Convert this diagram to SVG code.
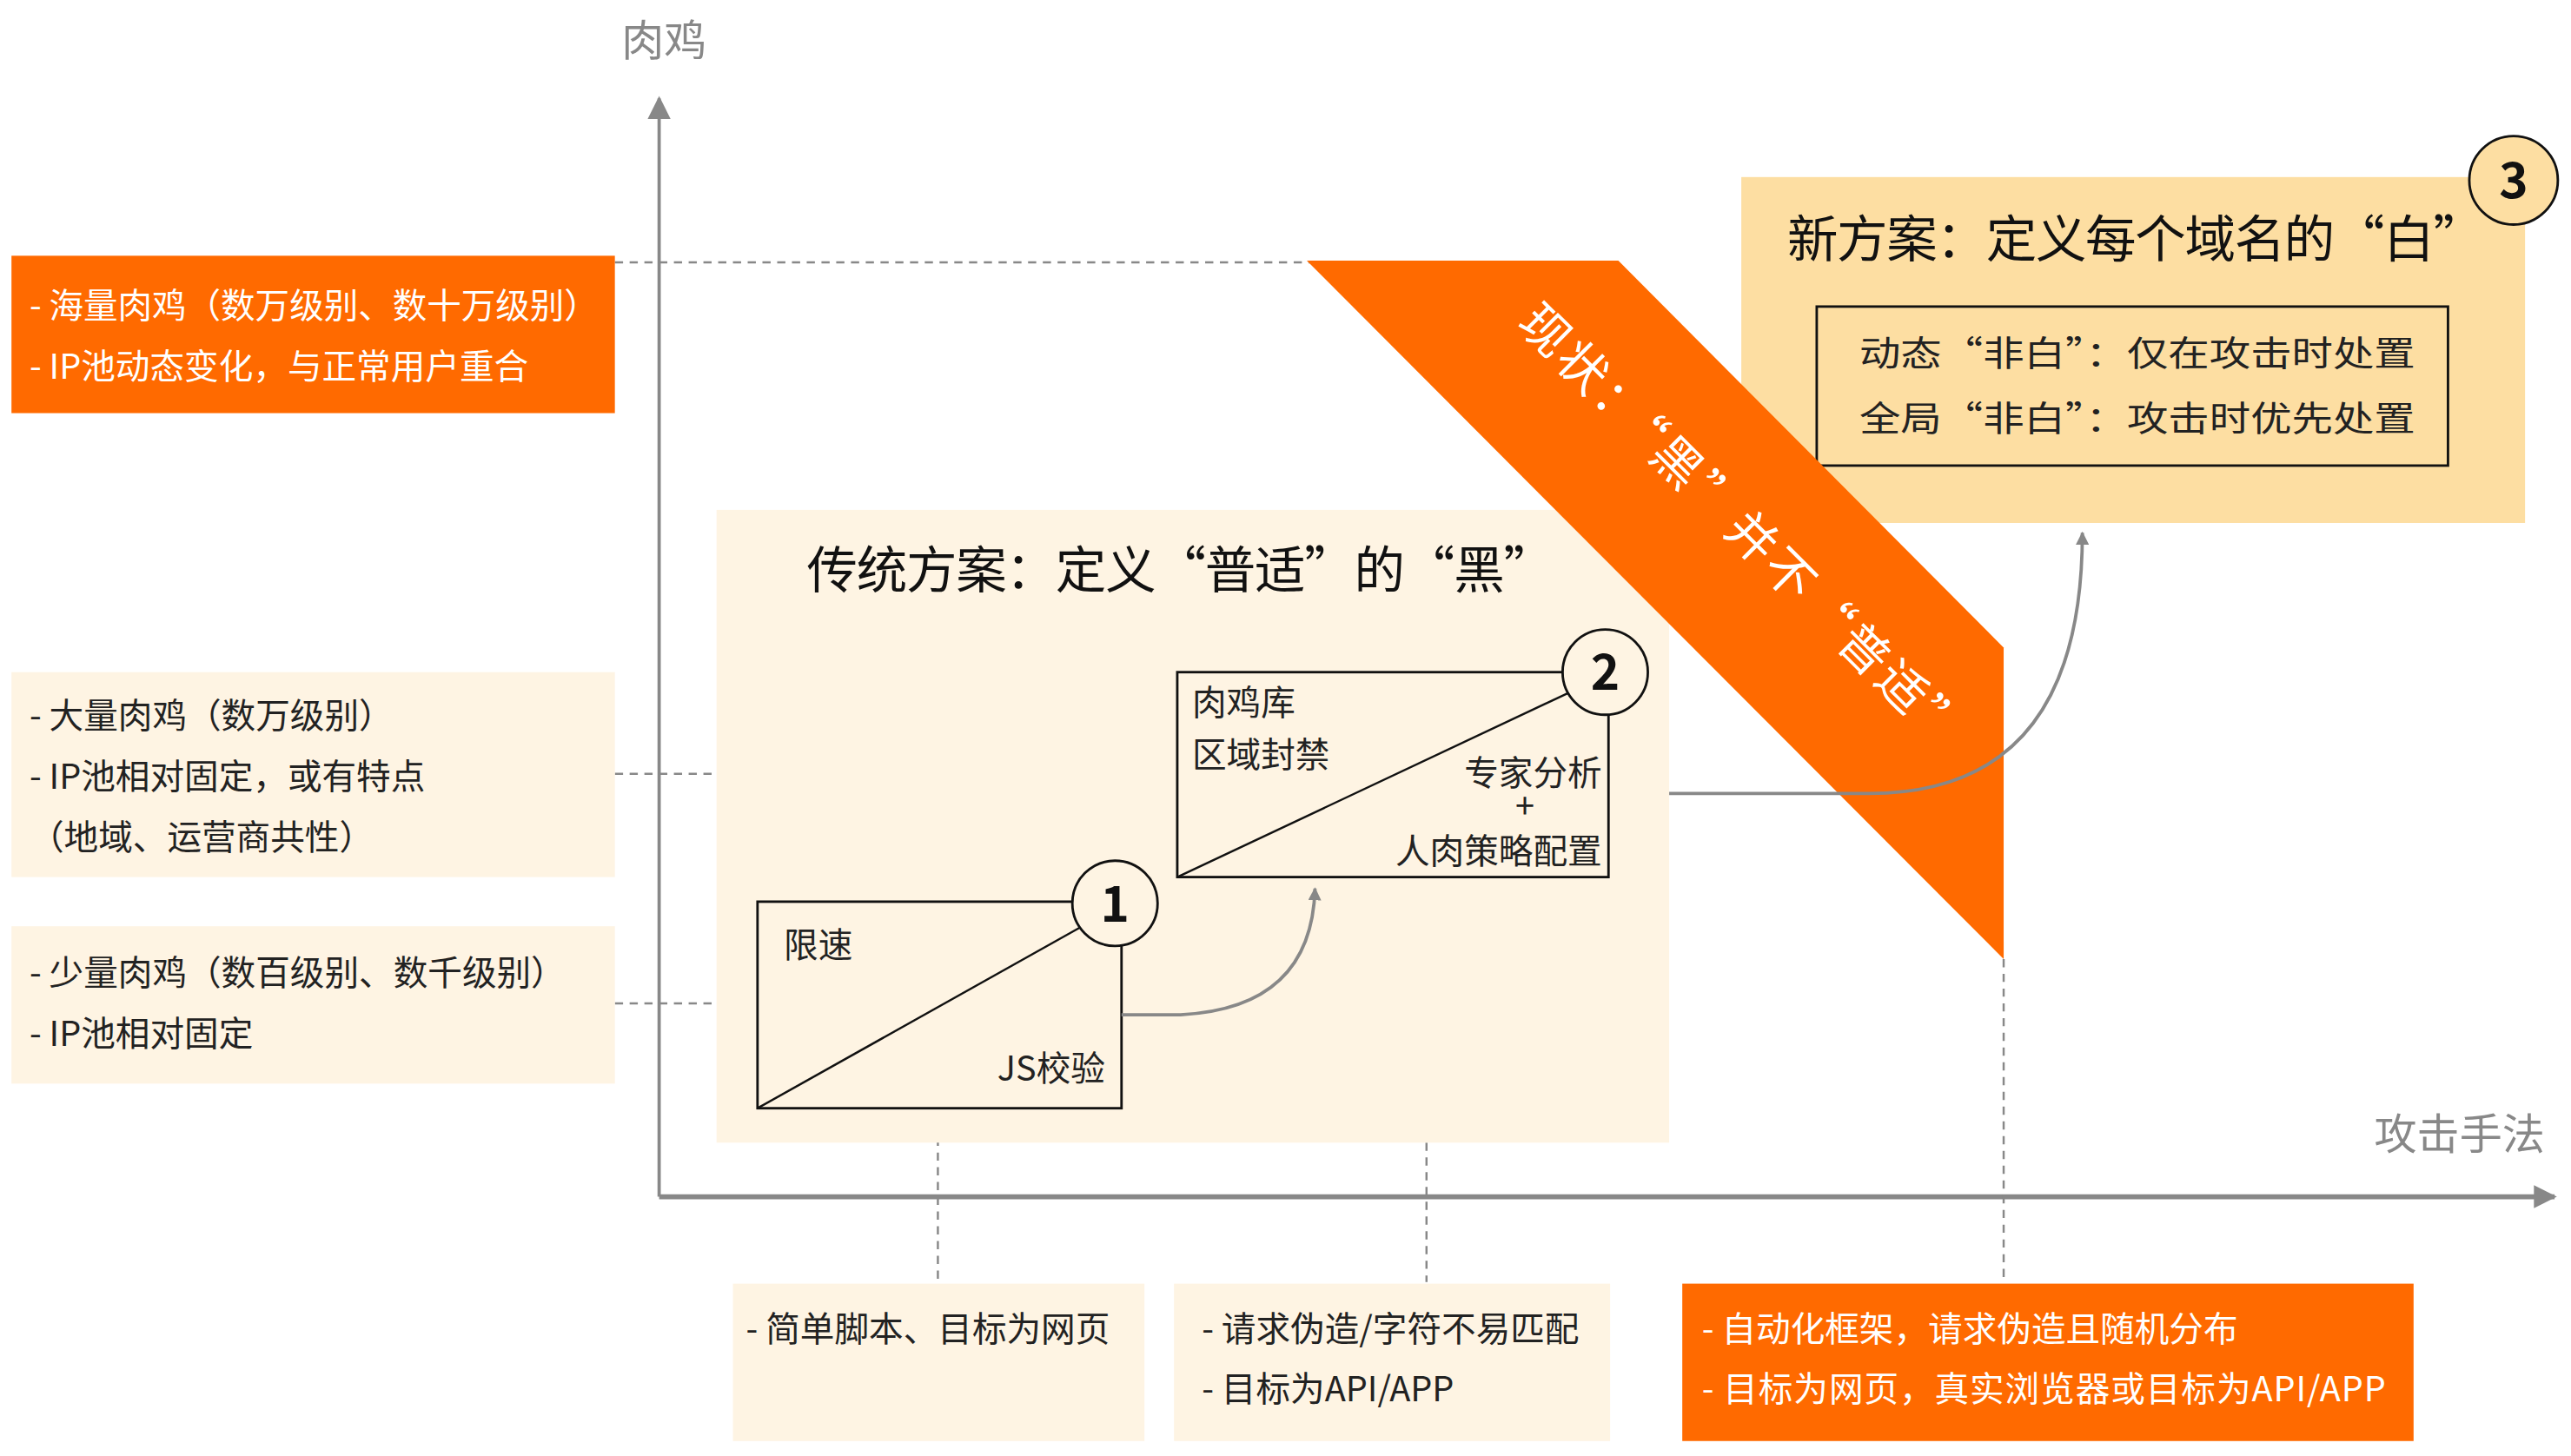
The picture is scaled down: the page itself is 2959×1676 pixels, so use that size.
<svg xmlns="http://www.w3.org/2000/svg" width="2959" height="1676" viewBox="0 0 2959 1676">
<defs>
<style>
text{font-family:"Noto Sans CJK SC","Noto Sans",sans-serif;}
.t{font-size:21px;fill:#222;}
.w{font-size:21px;fill:#fff;}
.ttl{font-size:31px;fill:#111;}
.ax{font-size:26px;fill:#888;}
.dash{stroke:#888;stroke-width:1.3;stroke-dasharray:5,4;fill:none;}
.bx{fill:none;stroke:#111;stroke-width:1.5;}
.num{font-size:30px;font-weight:bold;fill:#111;text-anchor:middle;}
</style>
<marker id="ah" viewBox="0 0 10 10" refX="9" refY="5" markerWidth="8" markerHeight="8" orient="auto-start-reverse" markerUnits="userSpaceOnUse"><path d="M0,0 L10,5 L0,10 z" fill="#888"/></marker>
<marker id="ahb" viewBox="0 0 10 10" refX="9" refY="5" markerWidth="22" markerHeight="14" orient="auto" markerUnits="userSpaceOnUse"><path d="M0,0 L10,5 L0,10 z" fill="#888"/></marker>
</defs>
<rect width="2959" height="1676" fill="#fff"/>
<g transform="scale(1.8871)">
<g id="axes">
<text class="ax" x="405" y="34" text-anchor="middle">肉鸡</text>
<text class="ax" x="1500" y="701" text-anchor="middle">攻击手法</text>
<line x1="402" y1="730" x2="402" y2="60" stroke="#888" stroke-width="2" marker-end="url(#ahb)"/>
<line x1="402" y1="730" x2="1558" y2="730" stroke="#888" stroke-width="3" marker-end="url(#ahb)"/>
</g>
<g id="guides">
<line class="dash" x1="375" y1="160" x2="800" y2="160"/>
<line class="dash" x1="375" y1="472" x2="718" y2="472"/>
<line class="dash" x1="375" y1="612" x2="462" y2="612"/>
<line class="dash" x1="572" y1="676" x2="572" y2="782"/>
<line class="dash" x1="870" y1="535" x2="870" y2="782"/>
<line class="dash" x1="1222" y1="585" x2="1222" y2="782"/>
</g>
<g id="left1"><rect x="7" y="156" width="368" height="96" fill="#FF6A00"/>
<text class="w" x="18" y="194" textLength="347" lengthAdjust="spacingAndGlyphs">- 海量肉鸡（数万级别、数十万级别）</text>
<text class="w" x="18" y="231">- IP池动态变化，与正常用户重合</text></g>
<g id="left2"><rect x="7" y="410" width="368" height="125" fill="#FEF4E3"/>
<text class="t" x="18" y="444">- 大量肉鸡（数万级别）</text>
<text class="t" x="18" y="481">- IP池相对固定，或有特点</text>
<text class="t" x="18" y="518">（地域、运营商共性）</text></g>
<g id="left3"><rect x="7" y="565" width="368" height="96" fill="#FEF4E3"/>
<text class="t" x="18" y="601">- 少量肉鸡（数百级别、数千级别）</text>
<text class="t" x="18" y="638">- IP池相对固定</text></g>
<g id="traditional"><rect x="437" y="311" width="581" height="386" fill="#FEF4E3"/>
<text class="ttl" x="492" y="359" textLength="456">传统方案：定义“普适”的“黑”</text></g>
<g id="node1"><rect class="bx" x="462" y="550" width="222" height="126"/>
<line x1="462" y1="676" x2="660" y2="565" stroke="#111" stroke-width="1.3"/>
<circle cx="680" cy="551" r="26" fill="#FEF4E3" stroke="#111" stroke-width="1.5"/>
<text class="num" x="680" y="562">1</text>
<text class="t" x="478" y="584" font-size="22">限速</text>
<text class="t" x="674" y="659" text-anchor="end" font-size="22">JS校验</text></g>
<g id="node2"><rect class="bx" x="718" y="410" width="263" height="125"/>
<line x1="718" y1="535" x2="958" y2="422" stroke="#111" stroke-width="1.3"/>
<circle cx="979" cy="410" r="26" fill="#FEF4E3" stroke="#111" stroke-width="1.5"/>
<text class="num" x="979" y="421">2</text>
<text class="t" x="727" y="436" font-size="22">肉鸡库</text>
<text class="t" x="727" y="468" font-size="22">区域封禁</text>
<text class="t" x="977" y="479" text-anchor="end" font-size="22">专家分析</text>
<text class="t" x="930" y="499" text-anchor="middle" font-size="12">+</text>
<text class="t" x="977" y="527" text-anchor="end" font-size="22">人肉策略配置</text></g>
<g id="newplan"><rect x="1062" y="108" width="478" height="211" fill="#FDDEA2"/>
<text class="ttl" x="1090" y="157" textLength="425">新方案：定义每个域名的“白”</text>
<rect class="bx" x="1108" y="187" width="385" height="97"/>
<text class="t" x="1134" y="223" font-size="23" textLength="339" lengthAdjust="spacingAndGlyphs">动态“非白”：仅在攻击时处置</text>
<text class="t" x="1134" y="263" font-size="23" textLength="339" lengthAdjust="spacingAndGlyphs">全局“非白”：攻击时优先处置</text>
<circle cx="1533" cy="110" r="27" fill="#FDDEA2" stroke="#111" stroke-width="1.5"/>
<text class="num" x="1533" y="121">3</text></g>
<g id="band"><polygon points="797,159 987,159 1222,395 1222,585" fill="#FF6A00"/>
<text x="1062" y="332" font-size="30" fill="#fff" text-anchor="middle" textLength="370" transform="rotate(45 1062 322)">现状：“黑”并不“普适”</text></g>
<g id="connectors">
<path d="M684,619 H720 Q800,615 802,542" fill="none" stroke="#888" stroke-width="2" marker-end="url(#ah)"/>
<path d="M1018,484 H1140 Q1270,484 1270,325" fill="none" stroke="#888" stroke-width="2" marker-end="url(#ah)"/>
</g>
<g id="bottom1"><rect x="447" y="783" width="251" height="96" fill="#FEF4E3"/>
<text class="t" x="455" y="818">- 简单脚本、目标为网页</text></g>
<g id="bottom2"><rect x="716" y="783" width="266" height="96" fill="#FEF4E3"/>
<text class="t" x="733" y="818">- 请求伪造/字符不易匹配</text>
<text class="t" x="733" y="855">- 目标为API/APP</text></g>
<g id="bottom3"><rect x="1026" y="783" width="446" height="96" fill="#FF6A00"/>
<text class="w" x="1038" y="818">- 自动化框架，请求伪造且随机分布</text>
<text class="w" x="1038" y="855" textLength="417">- 目标为网页，真实浏览器或目标为API/APP</text></g>
</g>
</svg>
